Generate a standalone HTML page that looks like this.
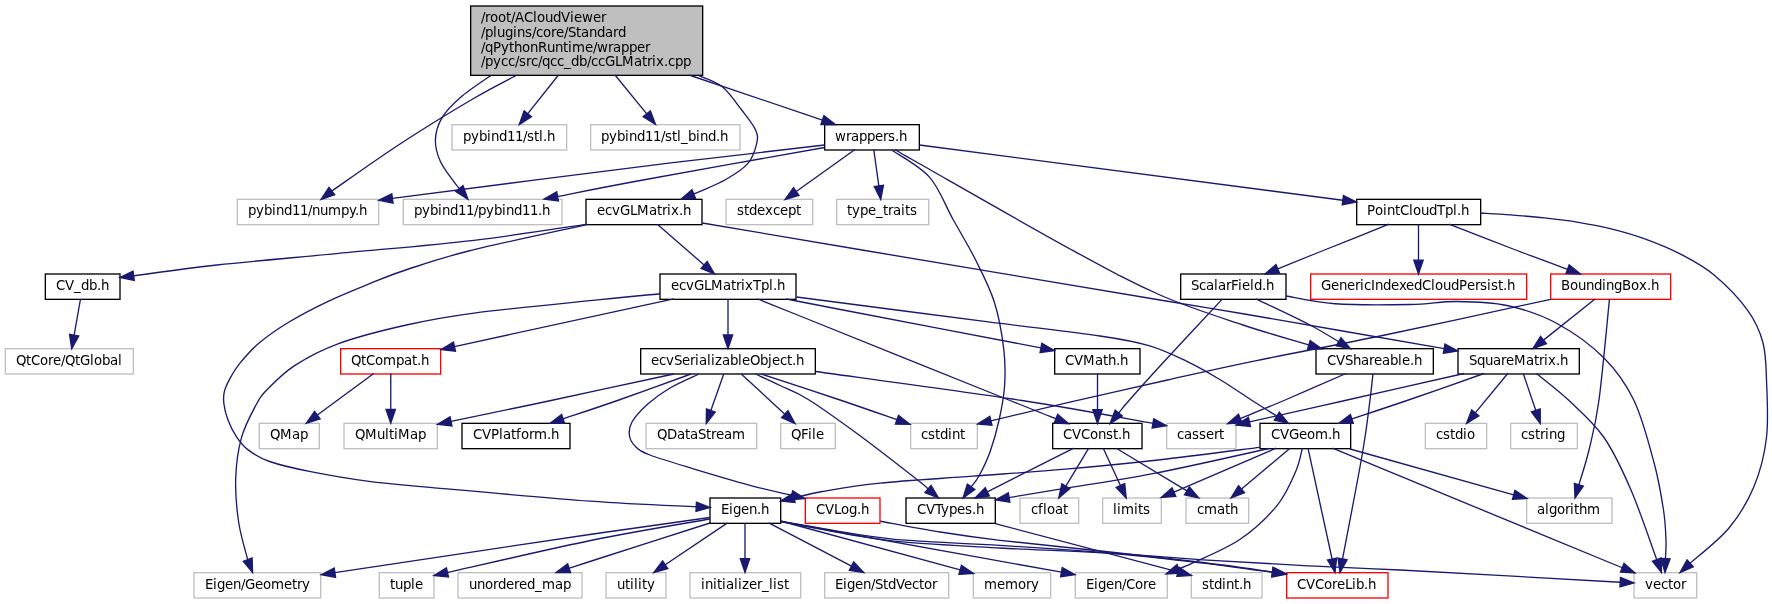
<!DOCTYPE html>
<html><head><meta charset="utf-8"><title>ccGLMatrix.cpp include graph</title>
<style>
html,body{margin:0;padding:0;background:#fff;}
svg{display:block;will-change:transform;}
text{font-family:"DejaVu Sans","Liberation Sans",sans-serif;font-size:13.333px;fill:#000;}
.e{fill:none;stroke:#191970;stroke-width:1.33;}
.a{fill:#191970;stroke:#191970;stroke-width:1.33;}
</style></head><body>
<svg width="1772" height="604" viewBox="0 0 1772 604">
<rect x="0" y="0" width="1772" height="604" fill="#ffffff"/>
<g><rect x="470.67" y="6.0" width="232.00" height="69.33" fill="#bfbfbf" stroke="#000" stroke-width="1.33"/><text x="481 485 490 498 506 511 515 524 533 537 545 553 561 570 574 582 593 601" y="22">/root/ACloudViewer</text><text x="481 485 493 497 505 513 517 525 532 536 543 551 556 564 568 576 581 589 597 605 613 618" y="37">/plugins/core/Standard</text><text x="481 485 493 501 509 514 522 530 538 547 555 563 568 572 585 593 597 608 613 621 629 637 645" y="52">/qPythonRuntime/wrapper</text><text x="481 485 493 501 508 515 519 526 531 538 542 550 557 564 571 579 587 591 598 605 615 622 634 642 647 652 656 664 668 675 683" y="66">/pycc/src/qcc_db/ccGLMatrix.cpp</text></g>
<g><rect x="452" y="124.67" width="114.67" height="25.33" fill="#fff" stroke="#bfbfbf" stroke-width="1.33"/><text x="463 471 479 487 491 499 507 515 523 527 534 539 543 547" y="141">pybind11/stl.h</text></g>
<g><rect x="590.67" y="124.67" width="149.33" height="25.33" fill="#fff" stroke="#bfbfbf" stroke-width="1.33"/><text x="601 609 617 625 629 637 645 653 661 665 672 677 681 688 696 700 708 716 720" y="141">pybind11/stl_bind.h</text></g>
<g><rect x="824.67" y="124.67" width="94.67" height="25.33" fill="#fff" stroke="#000000" stroke-width="1.33"/><text x="835 846 851 859 867 875 883 888 895 899" y="141">wrappers.h</text></g>
<g><rect x="237.33" y="199.33" width="141.33" height="25.34" fill="#fff" stroke="#bfbfbf" stroke-width="1.33"/><text x="248 256 264 272 276 284 292 300 308 312 320 328 341 349 355 359" y="215">pybind11/numpy.h</text></g>
<g><rect x="403.33" y="199.33" width="158.67" height="25.34" fill="#fff" stroke="#bfbfbf" stroke-width="1.33"/><text x="414 422 430 438 442 450 458 466 474 478 486 494 502 506 514 522 530 538 542" y="215">pybind11/pybind11.h</text></g>
<g><rect x="586" y="199.33" width="116" height="25.34" fill="#fff" stroke="#000000" stroke-width="1.33"/><text x="597 605 612 620 630 637 649 657 662 667 671 679 683" y="215">ecvGLMatrix.h</text></g>
<g><rect x="726" y="199.33" width="86.67" height="25.34" fill="#fff" stroke="#bfbfbf" stroke-width="1.33"/><text x="737 744 749 757 765 773 780 788 796" y="215">stdexcept</text></g>
<g><rect x="836.67" y="199.33" width="92" height="25.34" fill="#fff" stroke="#bfbfbf" stroke-width="1.33"/><text x="847 852 860 868 876 883 888 893 901 905 910" y="215">type_traits</text></g>
<g><rect x="1356.67" y="199.33" width="124" height="25.34" fill="#fff" stroke="#000000" stroke-width="1.33"/><text x="1367 1375 1383 1387 1395 1400 1409 1413 1421 1429 1437 1445 1453 1457 1461" y="215">PointCloudTpl.h</text></g>
<g><rect x="45.33" y="274" width="74.67" height="25.33" fill="#fff" stroke="#000000" stroke-width="1.33"/><text x="56 65 74 81 89 97 101" y="290">CV_db.h</text></g>
<g><rect x="660" y="274" width="136" height="25.33" fill="#fff" stroke="#000000" stroke-width="1.33"/><text x="671 679 686 694 704 711 723 731 736 741 745 753 761 769 773 777" y="290">ecvGLMatrixTpl.h</text></g>
<g><rect x="1180.67" y="274" width="105.33" height="25.33" fill="#fff" stroke="#000000" stroke-width="1.33"/><text x="1191 1199 1206 1214 1218 1226 1231 1238 1242 1250 1254 1262 1266" y="290">ScalarField.h</text></g>
<g><rect x="1310.67" y="274" width="216" height="25.33" fill="#fff" stroke="#ff0000" stroke-width="1.33"/><text x="1321 1331 1339 1347 1355 1360 1364 1371 1375 1383 1391 1399 1406 1414 1422 1431 1435 1443 1451 1459 1467 1475 1480 1487 1491 1498 1503 1507" y="290">GenericIndexedCloudPersist.h</text></g>
<g><rect x="1550.67" y="274" width="120" height="25.33" fill="#fff" stroke="#ff0000" stroke-width="1.33"/><text x="1561 1570 1578 1586 1594 1602 1606 1614 1622 1631 1639 1647 1651" y="290">BoundingBox.h</text></g>
<g><rect x="5.33" y="348.67" width="128" height="25.33" fill="#fff" stroke="#bfbfbf" stroke-width="1.33"/><text x="16 26 31 40 48 53 61 65 75 80 90 94 102 110 118" y="365">QtCore/QtGlobal</text></g>
<g><rect x="340.67" y="348.67" width="100" height="25.33" fill="#fff" stroke="#ff0000" stroke-width="1.33"/><text x="351 361 366 375 383 396 404 412 417 421" y="365">QtCompat.h</text></g>
<g><rect x="640.67" y="348.67" width="174.67" height="25.33" fill="#fff" stroke="#000000" stroke-width="1.33"/><text x="651 659 666 674 682 690 695 699 707 711 715 722 730 738 742 750 760 768 772 780 787 792 796" y="365">ecvSerializableObject.h</text></g>
<g><rect x="1054.67" y="348.67" width="85.33" height="25.33" fill="#fff" stroke="#000000" stroke-width="1.33"/><text x="1065 1074 1083 1095 1103 1108 1116 1120" y="365">CVMath.h</text></g>
<g><rect x="1316" y="348.67" width="117.33" height="25.33" fill="#fff" stroke="#000000" stroke-width="1.33"/><text x="1327 1336 1345 1353 1361 1369 1374 1382 1390 1398 1402 1410 1414" y="365">CVShareable.h</text></g>
<g><rect x="1458" y="348.67" width="121.33" height="25.33" fill="#fff" stroke="#000000" stroke-width="1.33"/><text x="1469 1477 1485 1493 1501 1506 1514 1526 1534 1539 1544 1548 1556 1560" y="365">SquareMatrix.h</text></g>
<g><rect x="259.33" y="423.33" width="60" height="25.34" fill="#fff" stroke="#bfbfbf" stroke-width="1.33"/><text x="270 280 292 300" y="439">QMap</text></g>
<g><rect x="344" y="423.33" width="93.33" height="25.34" fill="#fff" stroke="#bfbfbf" stroke-width="1.33"/><text x="355 365 377 385 389 394 398 410 418" y="439">QMultiMap</text></g>
<g><rect x="462" y="423.33" width="108" height="25.34" fill="#fff" stroke="#000000" stroke-width="1.33"/><text x="473 482 491 499 503 511 516 521 529 534 547 551" y="439">CVPlatform.h</text></g>
<g><rect x="646" y="423.33" width="110.67" height="25.34" fill="#fff" stroke="#bfbfbf" stroke-width="1.33"/><text x="657 667 677 685 690 698 706 711 716 724 732" y="439">QDataStream</text></g>
<g><rect x="780.67" y="423.33" width="54.67" height="25.34" fill="#fff" stroke="#bfbfbf" stroke-width="1.33"/><text x="791 801 808 812 816" y="439">QFile</text></g>
<g><rect x="910.67" y="423.33" width="66.67" height="25.34" fill="#fff" stroke="#bfbfbf" stroke-width="1.33"/><text x="921 928 935 940 948 952 960" y="439">cstdint</text></g>
<g><rect x="1052.67" y="423.33" width="89.33" height="25.34" fill="#fff" stroke="#000000" stroke-width="1.33"/><text x="1063 1072 1081 1090 1098 1106 1113 1118 1122" y="439">CVConst.h</text></g>
<g><rect x="1166.67" y="423.33" width="69.33" height="25.34" fill="#fff" stroke="#bfbfbf" stroke-width="1.33"/><text x="1177 1184 1192 1199 1206 1214 1219" y="439">cassert</text></g>
<g><rect x="1260" y="423.33" width="90.67" height="25.34" fill="#fff" stroke="#000000" stroke-width="1.33"/><text x="1271 1280 1289 1299 1307 1315 1328 1332" y="439">CVGeom.h</text></g>
<g><rect x="1425.33" y="423.33" width="61.33" height="25.34" fill="#fff" stroke="#bfbfbf" stroke-width="1.33"/><text x="1436 1443 1450 1455 1463 1467" y="439">cstdio</text></g>
<g><rect x="1510.67" y="423.33" width="66.67" height="25.34" fill="#fff" stroke="#bfbfbf" stroke-width="1.33"/><text x="1521 1528 1535 1540 1545 1549 1557" y="439">cstring</text></g>
<g><rect x="710" y="498" width="70.67" height="25.33" fill="#fff" stroke="#000000" stroke-width="1.33"/><text x="721 729 733 741 749 757 761" y="514">Eigen.h</text></g>
<g><rect x="805.33" y="498" width="74.67" height="25.33" fill="#fff" stroke="#ff0000" stroke-width="1.33"/><text x="816 825 834 841 849 857 861" y="514">CVLog.h</text></g>
<g><rect x="906" y="498" width="89.33" height="25.33" fill="#fff" stroke="#000000" stroke-width="1.33"/><text x="917 926 935 941 949 957 965 972 976" y="514">CVTypes.h</text></g>
<g><rect x="1020" y="498" width="58.67" height="25.33" fill="#fff" stroke="#bfbfbf" stroke-width="1.33"/><text x="1031 1038 1043 1047 1055 1063" y="514">cfloat</text></g>
<g><rect x="1102.67" y="498" width="58.67" height="25.33" fill="#fff" stroke="#bfbfbf" stroke-width="1.33"/><text x="1113 1117 1121 1134 1138 1143" y="514">limits</text></g>
<g><rect x="1186" y="498" width="62.67" height="25.33" fill="#fff" stroke="#bfbfbf" stroke-width="1.33"/><text x="1197 1204 1217 1225 1230" y="514">cmath</text></g>
<g><rect x="1526.67" y="498" width="85.33" height="25.33" fill="#fff" stroke="#bfbfbf" stroke-width="1.33"/><text x="1537 1545 1549 1557 1565 1570 1574 1579 1587" y="514">algorithm</text></g>
<g><rect x="194" y="572.67" width="126.67" height="25.33" fill="#fff" stroke="#bfbfbf" stroke-width="1.33"/><text x="205 213 217 225 233 241 245 255 263 271 284 292 297 302" y="589">Eigen/Geometry</text></g>
<g><rect x="379.33" y="572.67" width="54.67" height="25.33" fill="#fff" stroke="#bfbfbf" stroke-width="1.33"/><text x="390 395 403 411 415" y="589">tuple</text></g>
<g><rect x="458" y="572.67" width="124" height="25.33" fill="#fff" stroke="#bfbfbf" stroke-width="1.33"/><text x="469 477 485 493 498 506 514 519 527 535 542 555 563" y="589">unordered_map</text></g>
<g><rect x="606" y="572.67" width="60" height="25.33" fill="#fff" stroke="#bfbfbf" stroke-width="1.33"/><text x="617 625 630 634 638 642 647" y="589">utility</text></g>
<g><rect x="690" y="572.67" width="110.67" height="25.33" fill="#fff" stroke="#bfbfbf" stroke-width="1.33"/><text x="701 705 713 717 722 726 734 738 742 749 757 762 769 773 777 784" y="589">initializer_list</text></g>
<g><rect x="824.67" y="572.67" width="124" height="25.33" fill="#fff" stroke="#bfbfbf" stroke-width="1.33"/><text x="835 843 847 855 863 871 875 883 888 896 904 912 919 924 932" y="589">Eigen/StdVector</text></g>
<g><rect x="973.33" y="572.67" width="77.33" height="25.33" fill="#fff" stroke="#bfbfbf" stroke-width="1.33"/><text x="984 997 1005 1018 1026 1031" y="589">memory</text></g>
<g><rect x="1075.33" y="572.67" width="92" height="25.33" fill="#fff" stroke="#bfbfbf" stroke-width="1.33"/><text x="1086 1094 1098 1106 1114 1122 1126 1135 1143 1148" y="589">Eigen/Core</text></g>
<g><rect x="1191.33" y="572.67" width="70.67" height="25.33" fill="#fff" stroke="#bfbfbf" stroke-width="1.33"/><text x="1202 1209 1214 1222 1226 1234 1239 1243" y="589">stdint.h</text></g>
<g><rect x="1286.67" y="572.67" width="101.33" height="25.33" fill="#fff" stroke="#ff0000" stroke-width="1.33"/><text x="1297 1306 1315 1324 1332 1337 1345 1352 1356 1364 1368" y="589">CVCoreLib.h</text></g>
<g><rect x="1634" y="572.67" width="62.67" height="25.33" fill="#fff" stroke="#bfbfbf" stroke-width="1.33"/><text x="1645 1653 1661 1668 1673 1681" y="589">vector</text></g>
<path class="e" d="M491.2,75.2C486.12,78.87 468.88,90.13 460.7,97.2C452.52,104.27 446.32,110.53 442.1,117.6C437.88,124.67 435.68,132.27 435.4,139.6C435.12,146.93 437.3,154.55 440.4,161.6C443.5,168.65 450.84,177.41 454,181.9C457.16,186.39 458.46,187.44 459.35,188.55"/><polygon class="a" points="455.71,191.48 468,199.3 462.99,185.62"/>
<path class="e" d="M517,75C509.33,79.17 490.5,88.5 471,100C451.5,111.5 423.19,128.84 400,144C376.81,159.16 343.21,183.15 331.85,190.97"/><polygon class="a" points="328.97,187.3 321,199.5 334.74,194.65"/>
<path class="e" d="M558.5,75L527.82,113.69"/><polygon class="a" points="524.16,110.79 519.25,124.5 531.48,116.59"/>
<path class="e" d="M615,75L646.76,113.82"/><polygon class="a" points="643.15,116.78 655.5,124.5 650.38,110.86"/>
<path class="e" d="M697.8,75.2C701.83,77.08 714.68,80.7 722,86.5C729.32,92.3 736.1,102.77 741.7,110C747.3,117.23 753.12,124.27 755.6,129.9C758.08,135.53 757.92,138.18 756.6,143.8C755.28,149.42 752.83,157.65 747.7,163.6C742.57,169.55 733.75,174.87 725.8,179.5C717.85,184.13 705.34,188.98 700,191.4C694.66,193.82 694.79,193.57 693.74,194"/><polygon class="a" points="691.95,189.69 681,199.3 695.54,198.31"/>
<path class="e" d="M689,75L822.43,120.08"/><polygon class="a" points="820.93,124.51 835.5,124.5 823.92,115.66"/>
<path class="e" d="M824.5,145C794.25,148.55 715.01,157.39 643,166.3C570.99,175.21 434.19,193.09 392.42,198.44"/><polygon class="a" points="391.8,193.81 378.75,200.3 393.05,203.07"/>
<path class="e" d="M824.5,147.5C794.25,152.92 687.49,171.84 643,180C598.51,188.16 571.8,193.71 557.56,196.46"/><polygon class="a" points="556.7,191.87 544,199 558.42,201.05"/>
<path class="e" d="M855,149.5L796.23,191.48"/><polygon class="a" points="793.52,187.68 785,199.5 798.94,195.28"/>
<path class="e" d="M873.75,149.5L878.84,185.83"/><polygon class="a" points="874.21,186.48 880.75,199.5 883.46,185.19"/>
<path class="e" d="M891.7,150C898,154.52 919.33,165.63 929.5,177.1C939.67,188.57 944.97,204.9 952.7,218.8C960.43,232.7 968.95,246.58 975.9,260.5C982.85,274.42 989.77,287.62 994.4,302.3C999.03,316.98 1002,334.7 1003.7,348.6C1005.4,362.5 1005.37,373.8 1004.6,385.7C1003.83,397.6 1001.53,408.95 999.1,420C996.67,431.05 993.35,442.67 990,452C986.65,461.33 982.15,470.19 979,476C975.85,481.81 972.43,485.03 971.12,486.84"/><polygon class="a" points="967.34,484.09 963,498 974.89,489.59"/>
<path class="e" d="M895,149.5C899.17,151.92 890.5,147.25 920,164C949.5,180.75 1032,228.17 1072,250C1112,271.83 1131.5,282.5 1160,295C1188.5,307.5 1218.2,316.67 1243,325C1267.8,333.33 1297.83,341.66 1308.8,344.99"/><polygon class="a" points="1307.44,349.46 1322,349 1310.15,340.52"/>
<path class="e" d="M919.5,145L1342.82,200.22"/><polygon class="a" points="1342.21,204.85 1356.5,202 1343.42,195.58"/>
<path class="e" d="M585.75,224.3C567.12,226.97 515.19,235.45 474,240.3C432.81,245.15 381.43,249.28 338.6,253.4C295.77,257.52 251.15,261.26 217,265C182.85,268.74 147.57,274.02 133.69,275.82"/><polygon class="a" points="133.08,271.19 120,277.6 134.29,280.45"/>
<path class="e" d="M588,224.3C568.12,228.75 499.13,243.38 468.75,251C438.37,258.62 422.32,264.52 405.7,270C389.07,275.48 381.75,278.77 369,283.9C356.25,289.03 342.45,294.5 329.2,300.8C315.95,307.1 301.08,314.75 289.5,321.7C277.92,328.65 267.98,335.55 259.7,342.5C251.42,349.45 244.85,357.22 239.8,363.4C234.75,369.58 231.98,374.85 229.4,379.6C226.82,384.35 225.22,387.87 224.3,391.9C223.38,395.93 223.3,399.17 223.9,403.8C224.5,408.43 225.92,414.4 227.9,419.7C229.88,425 232.48,430.62 235.8,435.6C239.12,440.58 242.17,445.28 247.8,449.6C253.43,453.92 259.33,457.87 269.6,461.5C279.87,465.13 292.83,468.08 309.4,471.4C325.97,474.72 348.9,478.75 369,481.4C389.1,484.05 393.13,484 430,487.3C466.87,490.6 545.83,497.95 590.2,501.2C634.57,504.45 678.55,505.85 696.22,506.78"/><polygon class="a" points="695.97,511.44 710,507.5 696.46,502.11"/>
<path class="e" d="M657.3,224.2L704.09,264.94"/><polygon class="a" points="701.03,268.46 714.5,274 707.16,261.42"/>
<path class="e" d="M702.25,223C729.38,227.58 788.71,237.67 865,250.5C941.29,263.33 1097,289.46 1160,300C1223,310.54 1195.64,305.64 1243,313.75C1290.36,321.86 1410.63,342.83 1444.15,348.64"/><polygon class="a" points="1443.35,353.24 1457.75,351 1444.95,344.04"/>
<path class="e" d="M80.5,299L74.14,335.16"/><polygon class="a" points="69.54,334.35 71.75,348.75 78.74,335.97"/>
<path class="e" d="M660,293.75C650,294.73 630.98,296.38 600,299.6C569.02,302.83 506.37,308.87 474.1,313.1C441.83,317.33 428.98,319.92 406.4,325C383.82,330.08 357.23,336.83 338.6,343.6C319.97,350.37 306.45,357.98 294.6,365.6C282.75,373.22 273.93,382.73 267.5,389.3C261.07,395.87 260.35,396.9 256,405C251.65,413.1 244.78,425.65 241.4,437.9C238.02,450.15 236.15,464.4 235.7,478.5C235.25,492.6 236.7,508.98 238.7,522.5C240.7,536.02 246.21,553.41 247.71,559.6"/><polygon class="a" points="243.34,561.25 252.6,572.5 252.08,557.94"/>
<path class="e" d="M673.75,298.9L454.49,346.57"/><polygon class="a" points="453.49,342 441,349.5 455.48,351.13"/>
<path class="e" d="M728,298.9L728,334.95"/><polygon class="a" points="723.33,334.95 728,348.75 732.67,334.95"/>
<path class="e" d="M757.5,298.9C764.58,301.75 757.92,299.07 800,316C842.08,332.93 967.35,383.39 1010,400.5C1052.65,417.61 1048.27,415.64 1055.92,418.67"/><polygon class="a" points="1054.2,423.01 1068.75,423.75 1057.64,414.33"/>
<path class="e" d="M786,298.9C795.5,300.75 800.51,301.83 843,310C885.49,318.17 1007.96,341.59 1040.95,347.9"/><polygon class="a" points="1040.07,352.49 1054.5,350.5 1041.82,343.32"/>
<path class="e" d="M796.5,297C828.15,301.1 935.82,315.1 986.4,321.6C1036.98,328.1 1072.92,332 1100,336C1127.08,340 1134.5,341.42 1148.9,345.6C1163.3,349.78 1174.52,355.42 1186.4,361.1C1198.28,366.78 1208.92,372.92 1220.2,379.7C1231.48,386.48 1244.66,395.73 1254.1,401.8C1263.54,407.87 1273.04,413.75 1276.83,416.14"/><polygon class="a" points="1274.34,420.09 1288.5,423.5 1279.32,412.19"/>
<path class="e" d="M373.75,373.5L317.36,415.06"/><polygon class="a" points="314.59,411.3 306.25,423.25 320.13,418.82"/>
<path class="e" d="M390.75,373.5L390.75,409.45"/><polygon class="a" points="386.08,409.45 390.75,423.25 395.42,409.45"/>
<path class="e" d="M673.75,374C653.29,378.42 588.12,392.6 551,400.5C513.88,408.4 467.67,417.94 451.01,421.42"/><polygon class="a" points="450.05,416.85 437.5,424.25 451.96,425.99"/>
<path class="e" d="M691,374C678.75,378.42 638.82,393.03 617.5,400.5C596.18,407.97 572.15,415.79 563.08,418.84"/><polygon class="a" points="561.59,414.42 550,423.25 564.57,423.27"/>
<path class="e" d="M699,374C694.17,376.33 678.53,383 670,388C661.47,393 654.13,398.33 647.8,404C641.47,409.67 635.05,416.67 632,422C628.95,427.33 628.83,431.83 629.5,436C630.17,440.17 632.58,443.83 636,447C639.42,450.17 640.7,451.45 650,455C659.3,458.55 675.13,463.25 691.8,468.3C708.47,473.35 733.37,480.8 750,485.3C766.63,489.8 784.65,493.62 791.58,495.28"/><polygon class="a" points="790.49,499.82 805,498.5 792.67,490.74"/>
<path class="e" d="M723.75,374L710.85,410.49"/><polygon class="a" points="706.45,408.93 706.25,423.5 715.25,412.05"/>
<path class="e" d="M741.25,374L784.85,414.15"/><polygon class="a" points="781.69,417.59 795,423.5 788.01,410.72"/>
<path class="e" d="M755.5,374C759.58,375.92 771.2,381.25 780,385.5C788.8,389.75 795.3,391.37 808.3,399.5C821.3,407.63 839.78,420.88 858,434.3C876.22,447.72 905.93,470.88 917.6,480C929.27,489.12 926.3,487.5 928.04,488.99"/><polygon class="a" points="925,492.53 938.5,498 931.09,485.46"/>
<path class="e" d="M761.25,374C774.38,378.33 817.38,392.38 840,400C862.62,407.62 887.47,416.44 896.96,419.73"/><polygon class="a" points="895.43,424.15 910,424.25 898.49,415.32"/>
<path class="e" d="M815.5,371.5C849.92,376.33 965.77,391.85 1022,400.5C1078.23,409.15 1131.09,419.56 1152.91,423.37"/><polygon class="a" points="1152.1,427.97 1166.5,425.75 1153.71,418.77"/>
<path class="e" d="M1097.5,373.5L1097.5,409.7"/><polygon class="a" points="1092.83,409.7 1097.5,423.5 1102.17,409.7"/>
<path class="e" d="M1389,224.2C1378.67,228.33 1345.53,241.56 1327,249C1308.47,256.44 1286,265.53 1277.8,268.84"/><polygon class="a" points="1276.05,264.51 1265,274 1279.55,273.17"/>
<path class="e" d="M1418.5,224.2L1418.5,260.2"/><polygon class="a" points="1413.83,260.2 1418.5,274 1423.17,260.2"/>
<path class="e" d="M1449,224.2C1460.33,228.58 1497.24,243 1517,250.5C1536.76,258 1559.13,266.09 1567.56,269.21"/><polygon class="a" points="1565.94,273.59 1580.5,274 1569.18,264.83"/>
<path class="e" d="M1480.5,213C1485.52,213.32 1499.93,214.08 1510.6,214.9C1521.27,215.72 1533.2,216.67 1544.5,217.9C1555.8,219.13 1567.12,220.43 1578.4,222.3C1589.68,224.17 1600.92,226.27 1612.2,229.1C1623.48,231.93 1634.8,235.18 1646.1,239.3C1657.4,243.42 1668.72,247.88 1680,253.8C1691.28,259.72 1702.52,265.37 1713.8,274.8C1725.08,284.23 1739.52,299.12 1747.7,310.4C1755.88,321.68 1759.77,330.9 1762.9,342.5C1766.03,354.1 1765.9,364.17 1766.5,380C1767.1,395.83 1768.58,419.75 1766.5,437.5C1764.42,455.25 1760.25,471.42 1754,486.5C1747.75,501.58 1739.63,515.21 1729,528C1718.37,540.79 1696.68,557.35 1690.22,563.22"/><polygon class="a" points="1687.08,559.77 1680,572.5 1693.36,566.68"/>
<path class="e" d="M1222.5,298.9C1212.08,310.08 1175.58,349.07 1160,366C1144.42,382.93 1135.88,392.66 1129,400.5C1122.12,408.34 1120.44,410.97 1118.73,413.06"/><polygon class="a" points="1115.12,410.11 1110,423.75 1122.35,416.02"/>
<path class="e" d="M1256,298.9C1265,303.25 1296.23,317.86 1310,325C1323.77,332.14 1333.83,338.97 1338.6,341.77"/><polygon class="a" points="1336.23,345.8 1350.5,348.75 1340.96,337.74"/>
<path class="e" d="M1286,296C1294.17,297.29 1314.33,302.33 1335,303.75C1355.67,305.17 1389.67,304.88 1410,304.5C1430.33,304.12 1440.83,301.33 1457,301.5C1473.17,301.67 1490.33,301.83 1507,305.5C1523.67,309.17 1540.83,314.75 1557,323.5C1573.17,332.25 1591.17,345.17 1604,358C1616.83,370.83 1625.67,383.08 1634,400.5C1642.33,417.92 1649.08,444.25 1654,462.5C1658.92,480.75 1661.5,497 1663.5,510C1665.5,523 1665.68,532.38 1666,540.5C1666.32,548.62 1665.53,555.67 1665.43,558.71"/><polygon class="a" points="1660.76,558.56 1665,572.5 1670.1,558.85"/>
<path class="e" d="M1550.5,299.3C1522.92,305.25 1434.42,324.7 1385,335C1335.58,345.3 1290.27,353.6 1254,361.1C1217.73,368.6 1198.83,372.98 1167.4,380C1135.97,387.02 1094.81,396.4 1065.4,403.2C1035.99,410 1003.34,417.89 990.93,420.82"/><polygon class="a" points="989.85,416.28 977.5,424 992,425.37"/>
<path class="e" d="M1595,298.9L1543.52,340.12"/><polygon class="a" points="1540.6,336.48 1532.75,348.75 1546.44,343.77"/>
<path class="e" d="M1609.5,298.9C1607.75,315.75 1602.42,374.82 1599,400C1595.58,425.18 1592.36,435.87 1589,450C1585.64,464.13 1580.55,478.96 1578.86,484.75"/><polygon class="a" points="1574.38,483.44 1575,498 1583.35,486.06"/>
<path class="e" d="M1346,373.5C1335.67,378 1301.62,393 1284,400.5C1266.38,408 1247.55,415.5 1240.26,418.5"/><polygon class="a" points="1238.48,414.18 1227.5,423.75 1242.04,422.82"/>
<path class="e" d="M1373,373.5C1372.5,377.92 1371.75,386.75 1370,400C1368.25,413.25 1367.07,426.51 1362.5,453C1357.93,479.49 1345.88,541.28 1342.55,558.94"/><polygon class="a" points="1337.96,558.07 1340,572.5 1347.14,559.8"/>
<path class="e" d="M1464,373.5C1444.17,378 1380.76,392.42 1345,400.5C1309.24,408.58 1265.39,418.39 1249.46,421.97"/><polygon class="a" points="1248.44,417.42 1236,425 1250.49,426.53"/>
<path class="e" d="M1484,373.5C1471.17,378 1429.03,392.94 1407,400.5C1384.97,408.06 1361.03,415.82 1351.84,418.89"/><polygon class="a" points="1350.37,414.46 1338.75,423.25 1353.32,423.32"/>
<path class="e" d="M1507.75,373.5L1475.28,412.86"/><polygon class="a" points="1471.68,409.88 1466.5,423.5 1478.88,415.83"/>
<path class="e" d="M1523.25,373.5L1535.81,410.43"/><polygon class="a" points="1531.39,411.94 1540.25,423.5 1540.23,408.93"/>
<path class="e" d="M1536.5,373.5C1541.92,378 1557.75,389.83 1569,400.5C1580.25,411.17 1593.67,422.58 1604,437.5C1614.33,452.42 1622.21,469.66 1631,490C1639.79,510.34 1652.43,547.96 1656.71,559.56"/><polygon class="a" points="1652.33,561.18 1661.5,572.5 1661.09,557.94"/>
<path class="e" d="M1073.75,448.2L987.32,491.79"/><polygon class="a" points="985.22,487.62 975,498 989.42,495.96"/>
<path class="e" d="M1088.75,448.2L1065.87,486.18"/><polygon class="a" points="1061.87,483.77 1058.75,498 1069.87,488.59"/>
<path class="e" d="M1103.25,448.2L1120.46,485.47"/><polygon class="a" points="1116.22,487.43 1126.25,498 1124.7,483.51"/>
<path class="e" d="M1116.25,448.2L1186.94,490.87"/><polygon class="a" points="1184.52,494.87 1198.75,498 1189.35,486.87"/>
<path class="e" d="M1259.75,447.3C1242.81,449.42 1190.49,456.35 1158.1,460C1125.71,463.65 1096.3,466.5 1065.4,469.2C1034.5,471.9 1003.6,473.88 972.7,476.2C941.8,478.52 905.08,480.55 880,483.1C854.92,485.65 836.52,489.03 822.2,491.5C807.88,493.97 798.74,496.86 794.05,497.93"/><polygon class="a" points="793.01,493.37 780.6,501 795.09,502.48"/>
<path class="e" d="M1269,448.5C1249.85,452.65 1190.18,466.42 1154.1,473.4C1118.02,480.38 1076.66,486.37 1052.5,490.4C1028.34,494.43 1016.35,496.36 1009.12,497.55"/><polygon class="a" points="1008.36,492.95 995.5,499.8 1009.88,502.16"/>
<path class="e" d="M1276,448.2L1173.93,492.05"/><polygon class="a" points="1172.09,487.76 1161.25,497.5 1175.77,496.34"/>
<path class="e" d="M1290,448.2L1241.55,489.1"/><polygon class="a" points="1238.53,485.53 1231,498 1244.56,492.67"/>
<path class="e" d="M1302.4,448.2C1301.27,452.12 1299.83,462.13 1295.6,471.7C1291.37,481.27 1286.32,494.3 1277,505.6C1267.68,516.9 1253.82,529.9 1239.7,539.5C1225.58,549.1 1202.46,558.32 1192.3,563.2C1182.14,568.08 1181.02,567.83 1178.77,568.76"/><polygon class="a" points="1176.99,564.44 1166,574 1180.54,573.08"/>
<path class="e" d="M1308,448.2L1332.07,559.01"/><polygon class="a" points="1327.51,560.01 1335,572.5 1336.63,558.02"/>
<path class="e" d="M1350,449L1513.71,494.78"/><polygon class="a" points="1512.45,499.28 1527,498.5 1514.97,490.29"/>
<path class="e" d="M1332.5,448.2L1622.24,567.74"/><polygon class="a" points="1620.46,572.05 1635,573 1624.02,563.42"/>
<path class="e" d="M709.75,517.5C690.29,520.25 655.48,524.8 593,534C530.52,543.2 377.91,566.25 334.9,572.7"/><polygon class="a" points="334.2,568.09 321.25,574.75 335.59,577.32"/>
<path class="e" d="M709.75,519C690.29,522.5 636.71,531.08 593,540C549.29,548.92 471.72,567.08 447.47,572.49"/><polygon class="a" points="446.45,567.94 434,575.5 448.49,577.05"/>
<path class="e" d="M710,523C690.5,529.25 616.48,552.96 593,560.5C569.52,568.04 573.11,566.95 569.13,568.24"/><polygon class="a" points="567.69,563.8 556,572.5 570.57,572.68"/>
<path class="e" d="M727.5,522.9L665.2,564.8"/><polygon class="a" points="662.59,560.92 653.75,572.5 667.81,568.67"/>
<path class="e" d="M745,522.9L745,558.7"/><polygon class="a" points="740.33,558.7 745,572.5 749.67,558.7"/>
<path class="e" d="M768.75,522.9L851.52,566.11"/><polygon class="a" points="849.36,570.25 863.75,572.5 853.68,561.97"/>
<path class="e" d="M780.5,521L960.18,569.88"/><polygon class="a" points="958.96,574.38 973.5,573.5 961.41,565.37"/>
<path class="e" d="M780.5,521.5L1061.42,572.15"/><polygon class="a" points="1060.59,576.75 1075,574.6 1062.25,567.56"/>
<path class="e" d="M780.8,521.4C792.5,523.63 830.23,531.33 851,534.8C871.77,538.27 880.57,540 905.4,542.2C930.23,544.4 964.57,546.03 1000,548C1035.43,549.97 1084.17,551.47 1118,554C1151.83,556.53 1177.26,560.14 1203,563.2C1228.74,566.26 1260.85,570.86 1272.42,572.39"/><polygon class="a" points="1271.81,577.02 1286.1,574.2 1273.03,567.76"/>
<path class="e" d="M780.8,521.2C792.5,523.23 830.23,530.23 851,533.4C871.77,536.57 880.57,538.2 905.4,540.2C930.23,542.2 965.9,543.3 1000,545.4C1034.1,547.5 1076.17,550.4 1110,552.8C1143.83,555.2 1171.33,557.7 1203,559.8C1234.67,561.9 1267.17,563.7 1300,565.4C1332.83,567.1 1346.63,567.19 1400,570C1453.37,572.81 1583.52,580.2 1620.22,582.23"/><polygon class="a" points="1619.96,586.9 1634,583 1620.48,577.57"/>
<path class="e" d="M880.4,521.25C890.33,523.04 920.07,528.83 940,532C959.93,535.17 971.67,536.97 1000,540.3C1028.33,543.63 1076.17,548.3 1110,552C1143.83,555.7 1175.93,559.18 1203,562.5C1230.07,565.82 1260.85,570.37 1272.43,571.94"/><polygon class="a" points="1271.8,576.57 1286.1,573.8 1273.06,567.31"/>
<path class="e" d="M995.25,523.6L1178.06,571.88"/><polygon class="a" points="1176.87,576.39 1191.4,575.4 1179.25,567.36"/>
</svg></body></html>
